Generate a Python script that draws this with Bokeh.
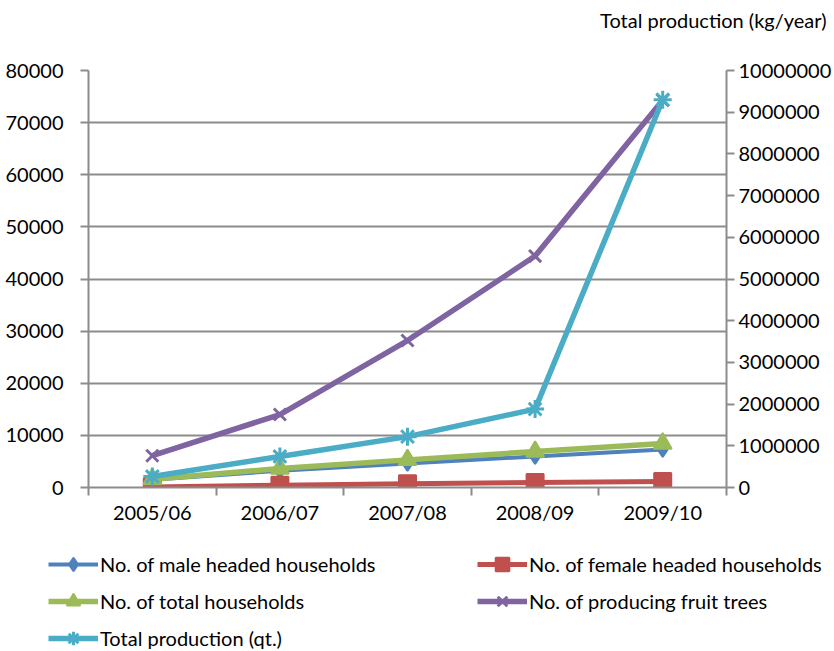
from bokeh.plotting import figure
from bokeh.layouts import column
from bokeh.models import (Range1d, LinearAxis, FixedTicker, Legend, LegendItem,
                          Title, BasicTickFormatter)
from bokeh.embed import file_html
from bokeh.resources import INLINE

# Fruit production by season
seasons = ["2005/06", "2006/07", "2007/08", "2008/09", "2009/10"]
male_hh = [1500, 3200, 4600, 5950, 7300]
female_hh = [100, 450, 700, 950, 1150]
total_hh = [1600, 3650, 5300, 6900, 8450]
fruit_trees = [6100, 14000, 28200, 44400, 74300]
total_prod = [265000, 745000, 1220000, 1880000, 9300000]   # kg/year, right axis

left_ticks = list(range(0, 80001, 10000))
right_ticks = list(range(0, 10000001, 1000000))

FONT = "Lato"
FS = "20px"
GRID = "#8c8c8c"

xs = [i + 0.5 for i in range(len(seasons))]

p = figure(width=834, height=530, x_range=Range1d(0, len(seasons)),
           y_range=Range1d(0, 80000),
           min_border_left=88, min_border_right=108,
           min_border_top=70, min_border_bottom=43,
           output_backend="svg", toolbar_location=None)
p.frame_align = False
p.outline_line_color = None
p.background_fill_color = "white"
p.border_fill_color = "white"
p.extra_y_ranges = {"prod": Range1d(0, 10000000)}

# x axis: season names centred, tick marks at category boundaries
xa = p.xaxis[0]
xa.ticker = FixedTicker(ticks=xs, minor_ticks=list(range(len(seasons) + 1)))
xa.major_label_overrides = {x: s for x, s in zip(xs, seasons)}
xa.major_tick_out = 0
xa.major_tick_in = 0
xa.minor_tick_out = 8
xa.minor_tick_in = 0
xa.minor_tick_line_color = GRID
xa.minor_tick_line_width = 2
xa.axis_line_color = GRID
xa.axis_line_width = 2
xa.major_label_standoff = 4
xa.major_label_text_font = FONT
xa.major_label_text_font_size = FS
xa.major_label_text_color = "black"

ya = p.yaxis[0]
ya.ticker = FixedTicker(ticks=left_ticks)
ya.formatter = BasicTickFormatter(use_scientific=False)

ra = LinearAxis(y_range_name="prod", ticker=FixedTicker(ticks=right_ticks),
                formatter=BasicTickFormatter(use_scientific=False))
p.add_layout(ra, "right")

for ax, standoff in ((ya, 17), (ra, 4)):
    ax.minor_tick_line_color = None
    ax.major_tick_out = 8
    ax.major_tick_in = 0
    ax.major_tick_line_color = GRID
    ax.major_tick_line_width = 2
    ax.axis_line_color = GRID
    ax.axis_line_width = 2
    ax.major_label_standoff = standoff
    ax.major_label_text_font = FONT
    ax.major_label_text_font_size = FS
    ax.major_label_text_color = "black"

p.xgrid.grid_line_color = None
p.ygrid.ticker = FixedTicker(ticks=left_ticks)
p.ygrid.grid_line_color = GRID
p.ygrid.grid_line_width = 2

# empty spacer title keeps the axis caption clear of the frame
p.add_layout(Title(text=" ", text_font=FONT, text_font_size="18px"), "above")
p.add_layout(Title(text="Total production (kg/year)", align="right", offset=-100,
                   text_font=FONT, text_font_size=FS,
                   text_font_style="normal", text_color="black"), "above")

series = [
    ("No. of male headed households", male_hh, "#4F81BD", "diamond", 15, 4, 2, "default"),
    ("No. of female headed households", female_hh, "#C0504D", "square", 17, 5, 2, "default"),
    ("No. of total households", total_hh, "#9BBB59", "triangle", 18, 5.5, 2, "default"),
    ("No. of producing fruit trees", fruit_trees, "#8064A2", "x", 17, 5.5, 3, "default"),
    ("Total production (qt.)", total_prod, "#4BACC6", "asterisk", 18, 5.5, 3, "prod"),
]

# legend strip underneath the chart; its renderers repeat the series but are
# hidden, so they only supply the line/marker styles next to each label
leg = figure(width=834, height=121, x_range=Range1d(0, len(seasons)),
             y_range=Range1d(0, 80000),
             min_border_left=0, min_border_right=0, min_border_top=0,
             min_border_bottom=0, x_axis_location=None, y_axis_location=None,
             output_backend="svg", toolbar_location=None)
leg.frame_align = False
leg.outline_line_color = None
leg.grid.grid_line_color = None
leg.extra_y_ranges = {"prod": Range1d(0, 10000000)}

items = []
for label, ys, color, marker, size, lw, mlw, yr in series:
    p.line(xs, ys, line_color=color, line_width=lw, y_range_name=yr)
    p.scatter(xs, ys, marker=marker, size=size, fill_color=color,
              line_color=color, line_width=mlw, y_range_name=yr)
    ln = leg.line(xs, ys, line_color=color, line_width=lw, y_range_name=yr,
                  visible=False)
    mk = leg.scatter(xs, ys, marker=marker, fill_color=color, line_color=color,
                     line_width=mlw, y_range_name=yr, visible=False)
    items.append(LegendItem(label=label, renderers=[ln, mk]))

legend = Legend(items=items, location=(48, -4), orientation="horizontal",
                ncols=2, spacing=3, padding=0, margin=0,
                glyph_width=50, glyph_height=34, label_height=20,
                label_width=374, label_standoff=2,
                label_text_font=FONT, label_text_font_size=FS,
                label_text_color="black", inactive_fill_alpha=0,
                border_line_color=None, background_fill_alpha=0)
leg.add_layout(legend, "center")

page = column(p, leg, spacing=0)
open("out.html", "w").write(file_html(page, INLINE))
